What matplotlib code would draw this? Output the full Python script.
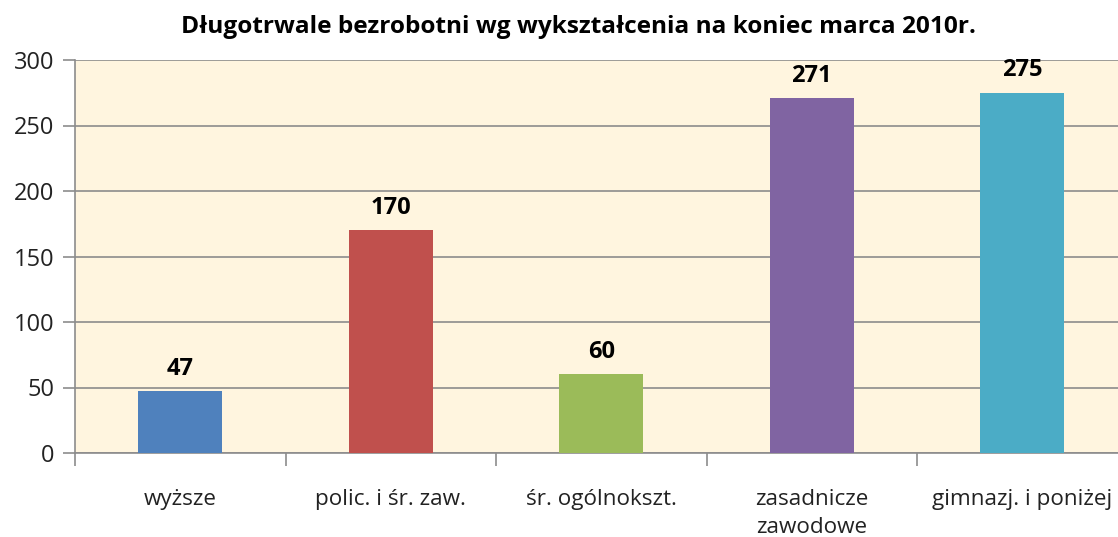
import matplotlib
matplotlib.use("Agg")
import matplotlib.pyplot as plt
import numpy as np

categories = ["wyższe", "polic. i śr. zaw.", "śr. ogólnokszt.", "zasadnicze\nzawodowe", "gimnazj. i poniżej"]
values = [47, 170, 60, 271, 275]
colors = ["#4F81BD", "#C0504D", "#9BBB59", "#8064A2", "#4BACC6"]
yticks = [0, 50, 100, 150, 200, 250, 300]
title = "Długotrwale bezrobotni wg wykształcenia na koniec marca 2010r."

plt.rcParams['font.family'] = ['Open Sans', 'DejaVu Sans']

fig = plt.figure(figsize=(11.18, 5.37), dpi=100)
ax = fig.add_axes([75/1118, 1-453/537, 1052.5/1118, (453-60)/537])
ax.set_facecolor("#FFF5DF")

x = np.arange(len(categories))
ax.bar(x, values, width=0.4, color=colors, zorder=3)
for xi, v in zip(x, values):
    ax.text(xi, v + 8, str(v), ha='center', va='bottom', fontsize=17, fontweight='bold', color='black', zorder=4)

ax.set_xlim(-0.5, len(categories) - 0.5)
ax.set_ylim(0, 300)
ax.set_yticks(yticks)
ax.set_yticklabels([str(t) for t in yticks], fontsize=17, color='#222222')
ax.yaxis.grid(True, color='#8C8C8C', linewidth=1.2, zorder=1)
ax.set_axisbelow(True)

ax.set_xticks(x)
ax.set_xticklabels(categories, fontsize=16.2, color='#222222', linespacing=1.4)
ax.set_xticks(np.arange(-0.5, len(categories) + 0.5, 1.0), minor=True)
ax.tick_params(axis='x', which='major', length=0, pad=26)
ax.tick_params(axis='x', which='minor', length=9, color='#8C8C8C', width=1.2, direction='out')
ax.tick_params(axis='y', length=9, color='#8C8C8C', width=1.2, direction='out', pad=6)

for s in ['top', 'right']:
    ax.spines[s].set_visible(False)
for s in ['left', 'bottom']:
    ax.spines[s].set_color('#8C8C8C')
    ax.spines[s].set_linewidth(1.2)

fig.text(578/1118, 1-27/537, title, ha='center', va='center', fontsize=17.6, fontweight='bold')

fig.savefig("out.png", dpi=100)
